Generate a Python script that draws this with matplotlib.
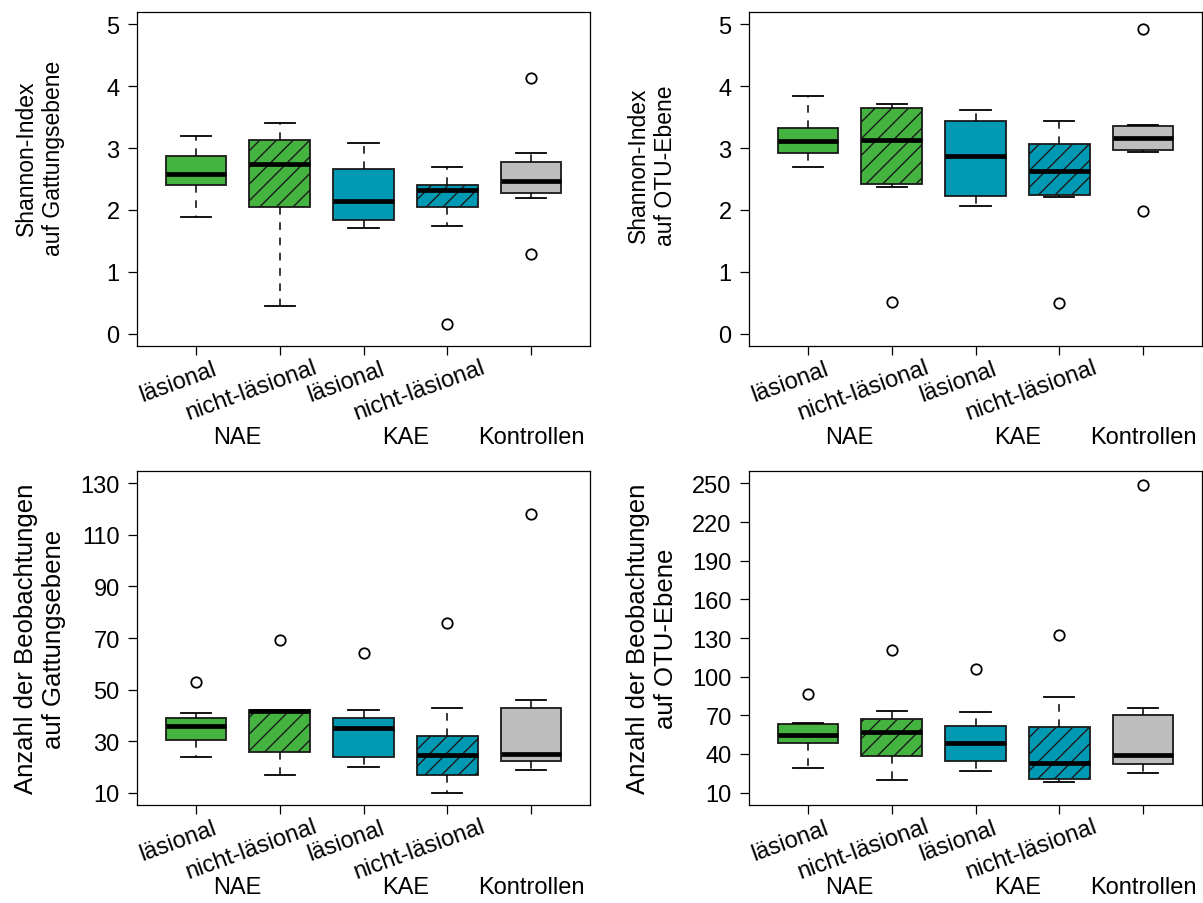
import numpy as np
import matplotlib
matplotlib.use("Agg")
import matplotlib.pyplot as plt
import matplotlib.transforms as mtransforms

plt.rcParams["font.family"] = ["Liberation Sans", "DejaVu Sans"]
plt.rcParams["hatch.linewidth"] = 1.0

# ---- data ----
sub_labels = ["läsional", "nicht-läsional", "läsional", "nicht-läsional"]
group_labels = ["NAE", "KAE", "Kontrollen"]
group_pos = [1.5, 3.5, 5.0]

box_colors = ["#45B33F", "#45B33F", "#0099B4", "#0099B4", "#BEBEBE"]
box_hatches = [None, "//", None, "//", None]

# Shannon index, genus level
sg_lo = [1.88, 0.45, 1.71, 1.74, 2.19]
sg_q1 = [2.40, 2.05, 1.83, 2.05, 2.28]
sg_med = [2.58, 2.74, 2.14, 2.33, 2.47]
sg_q3 = [2.87, 3.13, 2.66, 2.41, 2.78]
sg_hi = [3.19, 3.41, 3.08, 2.69, 2.92]
sg_out = [[], [], [], [0.15], [4.14, 1.29]]

# Shannon index, OTU level
so_lo = [2.70, 2.37, 2.06, 2.21, 2.94]
so_q1 = [2.92, 2.42, 2.23, 2.24, 2.97]
so_med = [3.11, 3.13, 2.87, 2.63, 3.17]
so_q3 = [3.33, 3.65, 3.43, 3.07, 3.35]
so_hi = [3.84, 3.71, 3.61, 3.44, 3.37]
so_out = [[], [0.51], [], [0.50], [4.93, 1.99]]

# observed counts, genus level
og_lo = [24.0, 17.0, 20.0, 10.0, 18.9]
og_q1 = [30.5, 25.8, 24.0, 17.0, 22.2]
og_med = [35.9, 41.5, 34.9, 24.6, 25.0]
og_q3 = [39.0, 42.1, 39.0, 31.9, 42.9]
og_hi = [40.9, 42.1, 42.1, 42.9, 46.0]
og_out = [[53.0], [69.1], [64.0], [75.9], [118.1]]

# observed counts, OTU level
oo_lo = [29.0, 20.1, 26.9, 18.5, 25.1]
oo_q1 = [48.9, 38.5, 34.6, 20.9, 32.5]
oo_med = [55.1, 57.4, 48.4, 33.1, 39.5]
oo_q3 = [63.4, 67.0, 61.8, 61.3, 70.2]
oo_hi = [64.4, 73.0, 72.2, 84.6, 75.3]
oo_out = [[86.2], [120.4], [106.1], [132.3], [249.1]]

panels = [
    (sg_lo, sg_q1, sg_med, sg_q3, sg_hi, sg_out,
     "Shannon-Index\nauf Gattungsebene", (0, 5), np.arange(0, 6, 1)),
    (so_lo, so_q1, so_med, so_q3, so_hi, so_out,
     "Shannon-Index\nauf OTU-Ebene", (0, 5), np.arange(0, 6, 1)),
    (og_lo, og_q1, og_med, og_q3, og_hi, og_out,
     "Anzahl der Beobachtungen\nauf Gattungsebene", (10, 130), np.arange(10, 131, 20)),
    (oo_lo, oo_q1, oo_med, oo_q3, oo_hi, oo_out,
     "Anzahl der Beobachtungen\nauf OTU-Ebene", (10, 250), np.arange(10, 251, 30)),
]

W, H = 1203, 904
fig = plt.figure(figsize=(W / 100, H / 100), dpi=100)

ax_w = 453 / W
ax_h = 334 / H
lefts = [137 / W, 749 / W]
bottoms = [1 - 347 / H, 1 - 806 / H]

FS = 17
YLAB_FS = [16.5, 16.5, 18.5, 18.5]
YLAB_Y = [0.565, 0.543, 0.5, 0.5]
GROUP_DY = [-65.5, -59]   # points below the axes, per row

for i, (lo, q1, med, q3, hi, out, ylabel, ylim, yticks) in enumerate(panels):
    row, col = divmod(i, 2)
    ax = fig.add_axes([lefts[col], bottoms[row], ax_w, ax_h])

    stats = []
    for k in range(5):
        stats.append({"whislo": lo[k], "q1": q1[k], "med": med[k],
                      "q3": q3[k], "whishi": hi[k], "fliers": out[k]})

    bp = ax.bxp(
        stats, positions=range(1, 6), widths=0.72, patch_artist=True,
        boxprops=dict(edgecolor="#1a1a1a", linewidth=1.3),
        whiskerprops=dict(color="black", linewidth=1.1, linestyle=(0, (5, 5))),
        capprops=dict(color="black", linewidth=1.3),
        medianprops=dict(color="black", linewidth=3.4, solid_capstyle="butt"),
        flierprops=dict(marker="o", markerfacecolor="white",
                        markeredgecolor="black", markersize=7.5, markeredgewidth=1.3),
    )
    for patch, c, h in zip(bp["boxes"], box_colors, box_hatches):
        patch.set_facecolor(c)
        if h:
            patch.set_hatch(h)

    span = ylim[1] - ylim[0]
    ax.set_ylim(ylim[0] - 0.04 * span, ylim[1] + 0.04 * span)
    ax.set_xlim(0.3, 5.7)
    ax.set_yticks(yticks)
    ax.set_xticks(range(1, 6))
    ax.set_xticklabels([])
    ax.tick_params(axis="both", direction="out", length=6.5, width=0.9,
                   labelsize=FS, pad=6)
    for s in ax.spines.values():
        s.set_linewidth(0.9)

    ax.text(-0.214, YLAB_Y[i], ylabel, transform=ax.transAxes, rotation=90,
            ha="center", va="center", fontsize=YLAB_FS[i], linespacing=1.2,
            multialignment="center")

    # rotated sub-labels below the ticks
    base = mtransforms.blended_transform_factory(ax.transData, ax.transAxes)
    for k, lab in enumerate(sub_labels):
        dx = 16 if lab == "läsional" else 28
        dy = -20 if lab == "läsional" else -18.5
        tr = mtransforms.offset_copy(base, fig=fig, x=dx, y=dy, units="points")
        ax.text(k + 1, 0, lab, transform=tr, rotation=20, rotation_mode="anchor",
                ha="right", va="baseline", fontsize=FS)

    # group labels
    tr = mtransforms.offset_copy(base, fig=fig, x=0, y=GROUP_DY[row], units="points")
    for gp, gl in zip(group_pos, group_labels):
        ax.text(gp, 0, gl, transform=tr, ha="center", va="center", fontsize=FS)

fig.savefig("out.png", dpi=100)
